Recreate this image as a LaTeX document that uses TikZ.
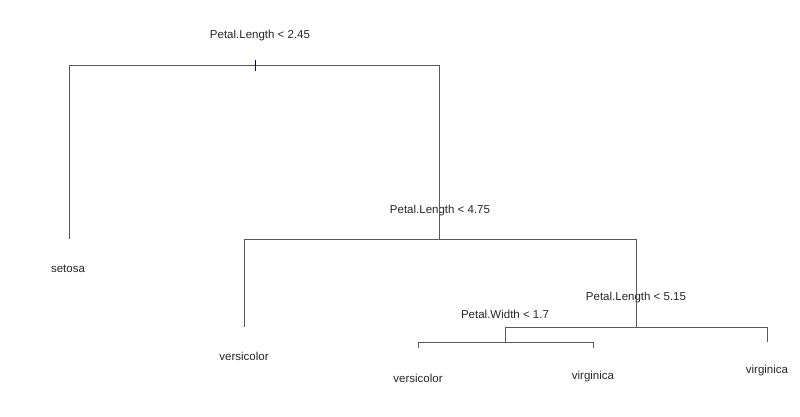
\documentclass[tikz,border=0pt]{standalone}
\usepackage{fontspec}
\setmainfont{Liberation Sans}
\begin{document}
\begin{tikzpicture}[x=1pt,y=-1pt,
  lbl/.style={font=\fontsize{11.5}{13}\selectfont, text=black!85, inner sep=0pt, anchor=center},
  edge/.style={draw=black!65, line width=0.9pt}]
\useasboundingbox (0,0) rectangle (800,417);
% split points
\coordinate (n1l) at (69,65);
\coordinate (n1r) at (439,65);
\coordinate (n2) at (439,239);
\coordinate (l1) at (69,239);
\coordinate (n2l) at (244,239);
\coordinate (n2r) at (636,239);
\coordinate (n3) at (636,327);
\coordinate (l2) at (244,327);
\coordinate (n3l) at (505,327);
\coordinate (n3r) at (767,327);
\coordinate (n4) at (505,342);
\coordinate (l5) at (767,342);
\coordinate (n4l) at (418,342);
\coordinate (n4r) at (593,342);
\coordinate (l3) at (418,348);
\coordinate (l4) at (593,348);
\coordinate (t1) at (255,60);
\coordinate (t2) at (255,71);
% labels
\node[lbl] (s1) at (260,36) {Petal.Length < 2.45};
\node[lbl] (s2) at (440,211) {Petal.Length < 4.75};
\node[lbl] (s3) at (636,298) {Petal.Length < 5.15};
\node[lbl] (s4) at (505,314) {Petal.Width < 1.7};
\node[lbl] (setosa) at (68,269) {setosa};
\node[lbl] (vc1) at (244,356) {versicolor};
\node[lbl] (vc2) at (418,378) {versicolor};
\node[lbl] (vg1) at (593,377) {virginica};
\node[lbl] (vg2) at (767,371) {virginica};
% edges
\draw[edge] (l1) -- (n1l) -- (n1r) -- (n2);
\draw[edge] (l2) -- (n2l) -- (n2r) -- (n3);
\draw[edge] (n4) -- (n3l) -- (n3r) -- (l5);
\draw[edge] (l3) -- (n4l) -- (n4r) -- (l4);
\draw[draw=blue!55!black, line width=0.9pt] (t1) -- (t2);
\end{tikzpicture}
\end{document}
